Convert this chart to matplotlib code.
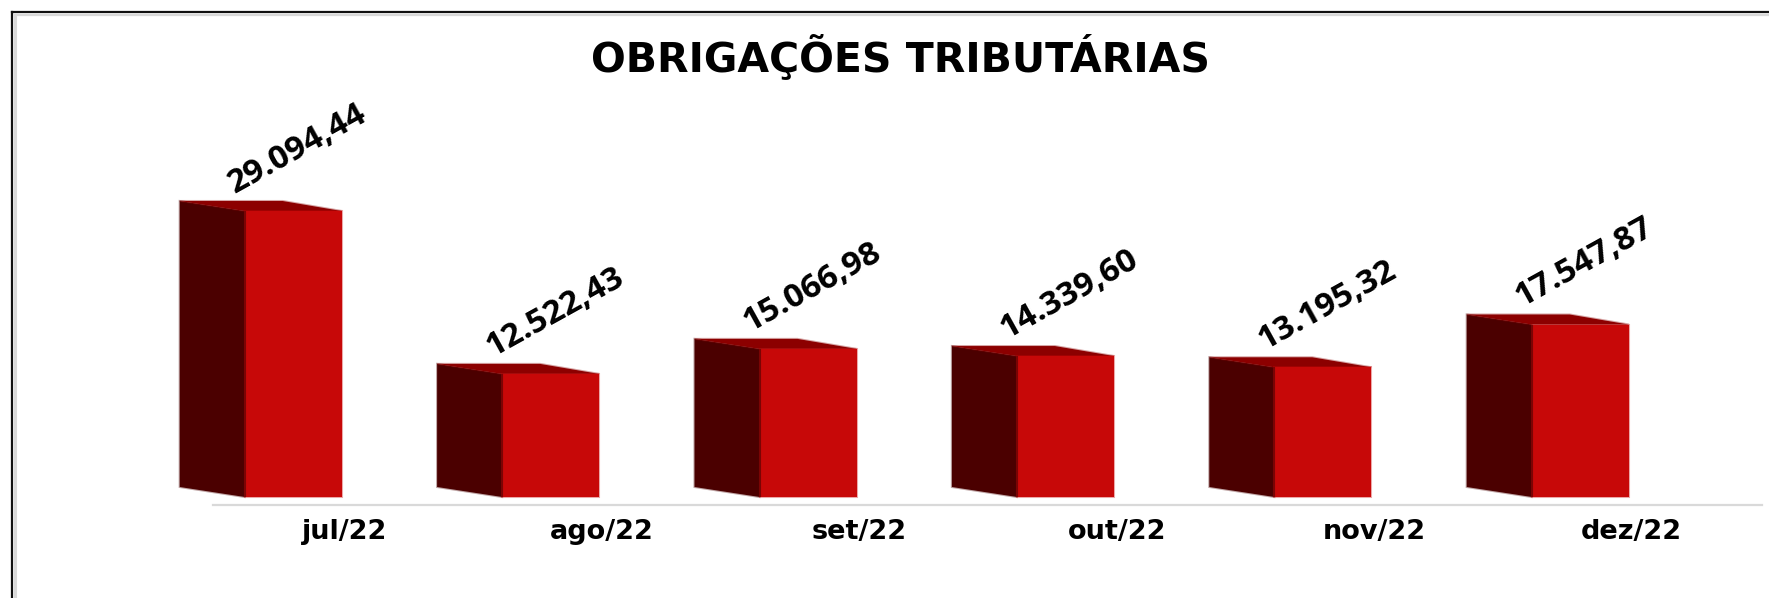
import numpy as np
import matplotlib
matplotlib.use("Agg")
import matplotlib.pyplot as plt
from matplotlib.lines import Line2D

meses = ['jul/22', 'ago/22', 'set/22', 'out/22', 'nov/22', 'dez/22']
valores = [29094.44, 12522.43, 15066.98, 14339.60, 13195.32, 17547.87]
rotulos = ['29.094,44', '12.522,43', '15.066,98', '14.339,60', '13.195,32', '17.547,87']
titulo = 'OBRIGAÇÕES TRIBUTÁRIAS'

W, H = 1769, 598
plt.rcParams['font.family'] = ['Open Sans', 'DejaVu Sans']

fig = plt.figure(figsize=(W / 100, H / 100), dpi=100, facecolor='white')

# area do grafico em pixels
esq, dir_, base, topo = 213, 1762, 505, 30
ax = fig.add_axes([esq / W, 1 - base / H, (dir_ - esq) / W, (base - topo) / H])

passo = 257.4
px_por_valor = 0.00983
ax.set_xlim(-0.5, (dir_ - esq) / passo - 0.5)
ax.set_ylim(-18 / px_por_valor, (487 - topo) / px_por_valor)

# falso 3d: deslocamentos da face frontal
x = np.arange(len(meses))
v = np.array(valores)
larg_frente = 97 / passo
prof_x = 65 / passo
prof_y = 10 / px_por_valor
x_frente = x - larg_frente
x_fundo = x_frente - prof_x

# bordas meio transparentes para imitar o desfoque da imagem original
ax.bar(x_frente, v, width=larg_frente, bottom=-prof_y, align='edge',
       color='#c70808', edgecolor=(0.78, 0.03, 0.03, 0.35), linewidth=1.5,
       clip_on=False, zorder=3)
for i in range(len(x)):
    ax.fill([x_fundo[i], x_frente[i], x_frente[i], x_fundo[i]],
            [0, -prof_y, v[i] - prof_y, v[i]],
            facecolor='#4b0000', edgecolor=(0.29, 0, 0, 0.35), lw=1.5,
            clip_on=False, zorder=2)
    ax.fill([x_fundo[i], x_fundo[i] + 103 / passo, x[i], x_frente[i]],
            [v[i], v[i], v[i] - prof_y, v[i] - prof_y],
            facecolor='#8c0000', edgecolor=(0.55, 0, 0, 0.35), lw=1.5,
            clip_on=False, zorder=2)
    ax.annotate(rotulos[i], (x_fundo[i], v[i]), xytext=(118 * 0.72, 52 * 0.72),
                textcoords='offset points', ha='center', va='center',
                rotation=29, rotation_mode='anchor', fontsize=24,
                fontweight='bold', color='black', annotation_clip=False)
ax.vlines(x_frente, -prof_y, v - prof_y, color='#7a0404', lw=1.5, zorder=4)

ax.set_xticks(x + 3 / passo)
ax.set_xticklabels(meses, fontsize=19.5, fontweight='bold', color='black',
                   family=['DejaVu Sans'])
ax.tick_params(axis='x', length=0, pad=10)
ax.set_yticks([])
for lado in ['top', 'left', 'right']:
    ax.spines[lado].set_visible(False)
ax.spines['bottom'].set_color('#d9d9d9')
ax.spines['bottom'].set_linewidth(1.6)
ax.patch.set_alpha(0)

fig.text(900 / W, 1 - 57 / H, titulo, ha='center', va='center',
         fontsize=29.5, fontweight='bold', color='black', family=['DejaVu Sans'])

# moldura: so em cima e na esquerda
fig.add_artist(Line2D([11.5 / W, 1], [1 - 11.5 / H] * 2, color='#111111', lw=1.6))
fig.add_artist(Line2D([15 / W, 1], [1 - 15 / H] * 2, color='#d9d9d9', lw=1.6))
fig.add_artist(Line2D([11.5 / W] * 2, [0, 1 - 11.5 / H], color='#111111', lw=1.6))
fig.add_artist(Line2D([15 / W] * 2, [0, 1 - 15 / H], color='#d9d9d9', lw=2.2))

fig.savefig('out.png', dpi=100)
